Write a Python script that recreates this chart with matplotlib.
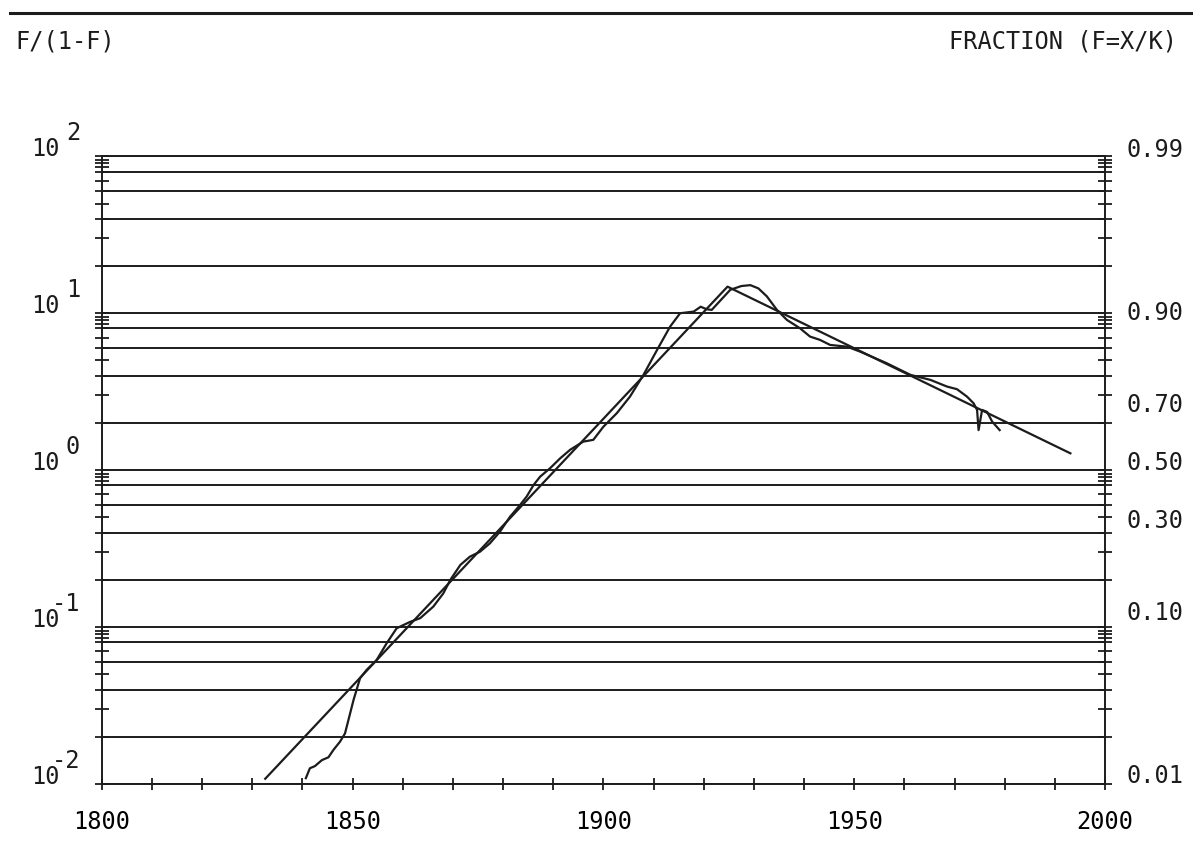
import numpy as np
import matplotlib
matplotlib.use("Agg")
import matplotlib.pyplot as plt
from matplotlib.lines import Line2D
from matplotlib.transforms import offset_copy, blended_transform_factory

FONT = {'family': 'DejaVu Sans Mono', 'size': 17}
INK = '#1c1c1c'

years = [1840.7, 1841.5, 1842.5, 1843.9, 1845.2, 1846.2, 1847.5, 1848.5, 1850.2, 1851.5,
         1852.8, 1854.8, 1856.8, 1858.8, 1861.5, 1863.5, 1866.1, 1868.1, 1869.5, 1871.5,
         1873.4, 1875.4, 1877.4, 1879.4, 1881.4, 1883.4, 1884.7, 1886.1, 1887.4, 1889.4,
         1891.4, 1893.4, 1896.0, 1898.0, 1900.0, 1902.7, 1905.3, 1908.0, 1910.7, 1913.3,
         1915.3, 1918.0, 1919.4, 1920.6, 1921.6, 1925.3, 1927.5, 1929.3, 1930.9, 1932.6,
         1934.6, 1936.6, 1939.2, 1941.2, 1943.2, 1945.2, 1948.6, 1951.2, 1956.5, 1961.2,
         1965.2, 1968.5, 1970.5, 1972.5, 1973.8, 1974.5, 1974.8, 1975.5, 1976.5, 1977.5,
         1979.0]
ratio = [0.0109, 0.0126, 0.0130, 0.0142, 0.0148, 0.0165, 0.0186, 0.0210, 0.0343, 0.0472,
         0.0533, 0.0616, 0.0788, 0.0983, 0.108, 0.114, 0.135, 0.164, 0.200, 0.249,
         0.281, 0.302, 0.342, 0.406, 0.505, 0.600, 0.678, 0.805, 0.909, 1.03,
         1.19, 1.35, 1.52, 1.56, 1.89, 2.31, 2.94, 4.05, 5.83, 8.21,
         10.0, 10.24, 11.0, 10.6, 10.5, 14.1, 14.9, 15.1, 14.4, 12.8,
         10.5, 9.06, 8.02, 7.10, 6.76, 6.28, 6.12, 5.69, 4.80, 4.05,
         3.76, 3.41, 3.28, 2.94, 2.67, 2.42, 1.80, 2.42, 2.35, 2.04,
         1.80]

# fitted logistic (straight lines on this scale)
fit_years = [1832.6, 1924.75, 1993.1]
fit_ratio = [0.0108, 14.77, 1.28]

x_labels = [1800, 1850, 1900, 1950, 2000]
decades = [-2, -1, 0, 1, 2]
grid_mult = [1, 2, 4, 6, 8]
tick_mult = [1, 2, 3, 4, 5, 6, 7, 8, 8.5, 9, 9.5]
fractions = [0.99, 0.90, 0.70, 0.50, 0.30, 0.10, 0.01]

fig = plt.figure(figsize=(11.93, 8.46), dpi=100)
ax = fig.add_axes([101.7 / 1193, 62 / 846, 1003.3 / 1193, 627.7 / 846])
ax.set_yscale('log')
ax.set_xlim(1800, 2000)
ax.set_ylim(0.01, 100)

grid_vals = [m * 10.0 ** d for d in decades[:-1] for m in grid_mult] + [100.0]
for g in grid_vals:
    ax.axhline(g, color=INK, lw=1.4, zorder=1)

ax.plot(fit_years, fit_ratio, color=INK, lw=1.6, zorder=3)
ax.plot(years, ratio, color=INK, lw=1.6, zorder=3)

for s in ax.spines.values():
    s.set_color(INK)
    s.set_linewidth(1.4)

ax.set_xticks(x_labels)
ax.set_xticklabels([str(v) for v in x_labels], fontdict=FONT)
ax.set_xticks(np.arange(1800, 2001, 10), minor=True)
ax.tick_params(axis='x', which='both', direction='inout', length=9, width=1.3,
               color=INK, pad=14)

ytk = [m * 10.0 ** d for d in decades[:-1] for m in tick_mult] + [100.0]
ax.set_yticks(ytk)
ax.yaxis.set_minor_locator(matplotlib.ticker.NullLocator())
ax.tick_params(axis='y', which='both', direction='inout', length=9.5, width=1.3,
               color=INK, left=True, right=True, labelleft=False, labelright=False)

# left labels: 10 with exponent
trans = blended_transform_factory(ax.transAxes, ax.transData)
for d in decades:
    ax.text(-0.0416, 10.0 ** d, '10', ha='right', va='baseline', transform=trans,
            fontdict=FONT, color=INK)
    up = offset_copy(trans, fig=fig, x=0, y=16, units='dots')
    ax.text(-0.0216, 10.0 ** d, str(d), ha='right', va='baseline', transform=up,
            fontdict=FONT, color=INK)

# right labels: fraction F placed at F/(1-F)
for f in fractions:
    ax.text(1.0219, f / (1 - f), '{:.2f}'.format(f), ha='left', va='baseline',
            transform=trans, fontdict=FONT, color=INK)

fig.add_artist(Line2D([10 / 1193, 1.0], [1 - 13 / 846] * 2, transform=fig.transFigure,
                      color=INK, lw=2.2))
fig.text(15 / 1193, 1 - 48 / 846, 'F/(1-F)', ha='left', va='baseline', fontdict=FONT,
         color=INK)
fig.text(1177 / 1193, 1 - 48 / 846, 'FRACTION (F=X/K)', ha='right', va='baseline',
         fontdict=FONT, color=INK)

fig.savefig('out.png', dpi=100, facecolor='white')
